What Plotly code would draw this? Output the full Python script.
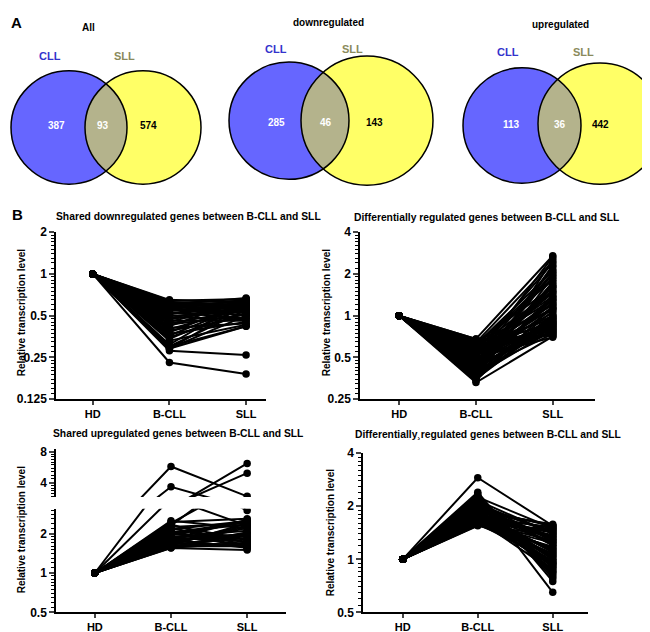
import numpy as np
import plotly.graph_objects as go

W, H = 650, 632

# ---------------- data ----------------
venn_titles = ["All", "downregulated", "upregulated"]
set_names = ["CLL", "SLL"]
cll_only = [387, 285, 113]
shared = [93, 46, 36]
sll_only = [574, 143, 442]

groups = ["HD", "B-CLL", "SLL"]
hd_level = 1.0

panel_titles = [
    "Shared downregulated genes between B-CLL and SLL",
    "Differentially regulated genes between B-CLL and SLL",
    "Shared upregulated genes between B-CLL and SLL",
    "Differentially\u00b8regulated genes between B-CLL and SLL",
]
y_label = "Relative transcription level"

down_bcll = [0.65, 0.64, 0.63, 0.62, 0.62, 0.61, 0.60, 0.60, 0.59, 0.58,
             0.58, 0.57, 0.56, 0.55, 0.55, 0.54, 0.53, 0.52, 0.52, 0.51,
             0.50, 0.49, 0.48, 0.47, 0.46, 0.45, 0.44, 0.43, 0.42, 0.41,
             0.40, 0.39, 0.38, 0.37, 0.36, 0.35, 0.34, 0.33, 0.31, 0.30,
             0.30, 0.29, 0.29, 0.28, 0.29, 0.23]
down_sll = [0.62, 0.66, 0.58, 0.64, 0.55, 0.60, 0.67, 0.52, 0.63, 0.57,
            0.61, 0.50, 0.65, 0.59, 0.54, 0.62, 0.48, 0.60, 0.56, 0.64,
            0.53, 0.47, 0.61, 0.58, 0.46, 0.63, 0.55, 0.51, 0.66, 0.44,
            0.57, 0.49, 0.62, 0.45, 0.60, 0.52, 0.58, 0.43, 0.65, 0.42,
            0.55, 0.60, 0.50, 0.26, 0.42, 0.19]

diff1_bcll = [0.68, 0.66, 0.65, 0.64, 0.63, 0.62, 0.61, 0.60, 0.59, 0.58,
              0.57, 0.56, 0.55, 0.55, 0.54, 0.53, 0.52, 0.51, 0.50, 0.50,
              0.49, 0.48, 0.47, 0.46, 0.46, 0.45, 0.44, 0.43, 0.43, 0.42,
              0.41, 0.40, 0.40, 0.39, 0.38, 0.38, 0.37, 0.36, 0.36, 0.35,
              0.34, 0.33, 0.68, 0.58, 0.52, 0.48, 0.44, 0.41, 0.39, 0.37,
              0.66, 0.60, 0.54, 0.50, 0.45, 0.42, 0.38, 0.35, 0.57, 0.47,
              0.64, 0.61, 0.56, 0.53, 0.49, 0.46, 0.43, 0.40, 0.37, 0.62]
diff1_sll = [0.72, 1.10, 0.85, 1.60, 0.95, 2.10, 0.78, 1.30, 0.90, 1.85,
             0.75, 1.20, 1.00, 2.40, 0.82, 1.45, 0.88, 1.05, 2.65, 0.70,
             1.15, 0.80, 1.70, 0.92, 1.25, 0.76, 1.55, 2.00, 0.86, 1.35,
             0.98, 0.74, 1.40, 2.25, 0.84, 1.08, 0.79, 1.90, 0.94, 2.55,
             1.18, 0.71, 2.70, 0.83, 1.28, 0.77, 1.65, 0.96, 2.30, 1.02,
             0.73, 1.50, 0.87, 2.15, 1.12, 0.81, 1.75, 0.91, 1.38, 1.22,
             2.45, 1.95, 1.48, 1.13, 0.89, 2.05, 1.62, 1.32, 0.99, 1.80]

up_bcll = [5.8, 3.7, 2.3, 2.4, 2.5, 2.45, 2.35, 2.25, 2.2, 2.15,
           2.1, 2.05, 2.0, 1.95, 1.9, 1.88, 1.85, 1.82, 1.8, 1.78,
           1.75, 1.72, 1.7, 1.68, 1.65, 1.63, 1.6, 1.58, 1.56, 1.55,
           2.0, 1.9, 1.8, 1.7, 1.62, 2.3]
up_sll = [3.0, 2.3, 6.2, 5.0, 2.2, 2.6, 1.6, 2.4, 1.7, 2.5,
          1.55, 2.35, 1.8, 2.45, 1.65, 2.1, 1.75, 2.55, 1.9, 1.58,
          2.0, 2.3, 1.62, 2.2, 1.85, 2.4, 1.6, 2.05, 1.7, 1.5,
          2.5, 1.95, 1.56, 2.25, 1.68, 1.8]

diff2_bcll = [2.90, 2.40, 2.35, 2.30, 2.25, 2.20, 2.15, 2.10, 2.05, 2.00,
              1.97, 1.94, 1.91, 1.88, 1.85, 1.82, 1.80, 1.78, 1.76, 1.74,
              1.72, 1.70, 1.68, 1.66, 1.64, 1.62, 1.60, 1.58, 1.56, 1.55,
              2.18, 2.08, 1.98, 1.90, 1.84, 1.79, 1.73, 1.67, 1.61, 1.57,
              2.12, 2.02, 1.93, 1.86, 1.81, 1.75, 1.69, 1.63, 1.59, 2.28,
              1.95, 1.87, 1.77, 1.71, 1.65, 2.22, 2.06, 1.83, 1.92, 1.99]
diff2_sll = [1.55, 0.75, 0.65, 0.80, 1.50, 0.85, 1.40, 0.90, 1.20, 1.00,
             1.45, 0.95, 1.30, 1.10, 1.58, 0.88, 1.25, 1.05, 1.35, 0.98,
             1.52, 1.15, 0.92, 1.42, 1.08, 1.28, 0.96, 1.48, 1.18, 1.38,
             0.82, 1.22, 1.02, 1.56, 0.94, 1.32, 1.12, 0.86, 1.46, 1.06,
             1.26, 0.90, 1.54, 1.00, 1.36, 1.14, 1.44, 0.97, 1.24, 0.78,
             1.34, 1.04, 1.50, 0.93, 1.16, 0.84, 1.40, 1.10, 1.30, 1.20]

# ---------------- layout helpers (pixel geometry) ----------------
FONT = "Liberation Sans, Arial, sans-serif"
BLUE, YELLOW, LENS = "#6666ff", "#ffff66", "#b4b38c"


def xd(px):
    return px / W


def yd(py):
    return 1 - py / H


def series_xy(bcll, sll):
    xs, ys = [], []
    for b, s in zip(bcll, sll):
        xs += [0, 1, 2, None]
        ys += [hd_level, b, s, None]
    return xs, ys


def minor_vals(lo, hi):
    vals = []
    a = 2.0 ** np.floor(np.log2(lo))
    while a < hi:
        for k in range(1, 10):
            v = a * (1 + k / 10)
            if lo < v < hi:
                vals.append(float(v))
        a *= 2
    return vals


fig = go.Figure()

line_style = dict(color="black", width=2)
marker_style = dict(color="black", size=7.5)


def add_lines(bcll, sll, xa, ya):
    xs, ys = series_xy(bcll, sll)
    fig.add_trace(go.Scatter(x=xs, y=ys, mode="lines+markers", line=line_style,
                             marker=marker_style, xaxis=xa, yaxis=ya,
                             showlegend=False, hoverinfo="skip",
                             connectgaps=False))


add_lines(down_bcll, down_sll, "x", "y")
add_lines(diff1_bcll, diff1_sll, "x2", "y2")
add_lines(up_bcll, up_sll, "x3", "y3")
add_lines(up_bcll, up_sll, "x3", "y4")
add_lines(diff2_bcll, diff2_sll, "x4", "y5")

tickfont = dict(family=FONT, size=12, color="black", weight="bold")


def xaxis_cfg(px0, px1, rng, anchor):
    return dict(domain=[xd(px0), xd(px1)], range=rng, anchor=anchor,
                tickvals=[0, 1, 2], ticktext=groups, ticks="outside",
                ticklen=4, tickwidth=1.5, showline=True, linewidth=1.5,
                linecolor="black", showgrid=False, zeroline=False,
                tickfont=dict(family=FONT, size=11, color="black", weight="bold"))


def yaxis_cfg(py_top, py_bot, lo, hi, tv, tt, anchor):
    return dict(domain=[yd(py_bot), yd(py_top)], type="log",
                range=[np.log10(lo), np.log10(hi)], anchor=anchor,
                tickvals=tv, ticktext=tt, ticks="outside", ticklen=5,
                tickwidth=1.5, showline=True, linewidth=1.5,
                linecolor="black", showgrid=False, zeroline=False,
                tickfont=tickfont,
                minor=dict(tickvals=minor_vals(lo, hi), ticks="outside",
                           ticklen=3, tickwidth=1, tickcolor="black"))


fig.update_layout(
    xaxis=xaxis_cfg(48, 258, [-0.48, 2.26], "y"),
    yaxis=yaxis_cfg(222, 393, 0.125, 2, [0.125, 0.25, 0.5, 1, 2],
                    ["0.125", "0.25", "0.5", "1", "2"], "x"),
    xaxis2=xaxis_cfg(352, 587, [-0.51, 2.55], "y2"),
    yaxis2=yaxis_cfg(222, 393, 0.25, 4, [0.25, 0.5, 1, 2, 4],
                     ["0.25", "0.5", "1", "2", "4"], "x2"),
    xaxis3=xaxis_cfg(48, 278, [-0.51, 2.51], "y3"),
    yaxis3=yaxis_cfg(505, 611, 0.5, 3.09, [0.5, 1, 2], ["0.5", "1", "2"], "x3"),
    yaxis4=yaxis_cfg(444, 493, 2.95, 8.5, [4, 8], ["4", "8"], "x3"),
    xaxis4=xaxis_cfg(355, 580, [-0.53, 2.47], "y5"),
    yaxis5=yaxis_cfg(448, 611, 0.5, 4, [0.5, 1, 2, 4],
                     ["0.5", "1", "2", "4"], "x4"),
    xaxis5=dict(domain=[0, 1], range=[0, W], visible=False, anchor="y6"),
    yaxis6=dict(domain=[0, 1], range=[H, 0], visible=False, anchor="x5"),
)

# ---------------- Venn diagrams ----------------
venn_geom = [
    dict(blue=(61, 115, 58), yellow=(135, 115, 58), title=(80, 13),
         cll=(42, 42), sll=(116, 42), nums=(48, 95, 140), ny=113),
    dict(blue=(281, 108, 60), yellow=(359, 108, 66), title=(320, 8),
         cll=(268, 35), sll=(344, 35), nums=(268, 318, 366), ny=110),
    dict(blue=(514, 113, 59), yellow=(592, 111, 62), title=(552, 10),
         cll=(500, 38), sll=(575, 38), nums=(503, 552, 592), ny=112),
]

shapes = []
annots = []


def circle(c, fill, line):
    cx, cy, r = c
    return dict(type="circle", xref="x5", yref="y6", x0=cx - r, x1=cx + r,
                y0=cy - r, y1=cy + r, fillcolor=fill, line=line, layer="above")


def lens_path(c1, c2):
    cx1, cy1, r1 = c1
    cx2, cy2, r2 = c2
    ys = np.linspace(max(cy1 - r1, cy2 - r2), min(cy1 + r1, cy2 + r2), 240)
    h1 = np.sqrt(np.clip(r1 ** 2 - (ys - cy1) ** 2, 0, None))
    h2 = np.sqrt(np.clip(r2 ** 2 - (ys - cy2) ** 2, 0, None))
    left = np.maximum(cx1 - h1, cx2 - h2)
    right = np.minimum(cx1 + h1, cx2 + h2)
    ok = left <= right
    ys, left, right = ys[ok], left[ok], right[ok]
    pts = list(zip(right, ys)) + list(zip(left[::-1], ys[::-1]))
    return "M " + " L ".join(f"{x:.2f},{y:.2f}" for x, y in pts) + " Z"


def txt(xy, s, size, color, weight="bold", angle=0):
    annots.append(dict(x=xy[0], y=xy[1], xref="x5", yref="y6", text=s,
                       showarrow=False, xanchor="center", yanchor="middle",
                       textangle=angle,
                       font=dict(family=FONT, size=size, color=color,
                                 weight=weight)))


for i, g in enumerate(venn_geom):
    shapes.append(circle(g["blue"], BLUE, dict(width=0)))
    shapes.append(circle(g["yellow"], YELLOW, dict(width=0)))
    shapes.append(dict(type="path", xref="x5", yref="y6",
                       path=lens_path(g["blue"], g["yellow"]),
                       fillcolor=LENS, line=dict(width=0), layer="above"))
    shapes.append(circle(g["blue"], "rgba(0,0,0,0)", dict(color="black", width=1.5)))
    shapes.append(circle(g["yellow"], "rgba(0,0,0,0)", dict(color="black", width=1.5)))

    txt(g["title"], venn_titles[i], 10, "black")
    txt(g["cll"], set_names[0], 11, "#3333cc")
    txt(g["sll"], set_names[1], 11, "#8a8a5c")
    txt((g["nums"][0], g["ny"]), str(cll_only[i]), 10, "white")
    txt((g["nums"][1], g["ny"]), str(shared[i]), 10, "white")
    txt((g["nums"][2], g["ny"]), str(sll_only[i]), 10, "black")

# panel letters
txt((8, 8), "A", 15, "black")
txt((9, 204), "B", 15, "black")

# panel titles and y labels
title_pos = [(180, 206), (478, 207), (170, 428), (480, 429)]
ylab_pos = [(13, 305), (318, 305), (13, 527), (322, 530)]
for t, xy in zip(panel_titles, title_pos):
    txt(xy, t, 10.3, "black")
for xy in ylab_pos:
    txt(xy, y_label, 10, "black", angle=-90)

fig.update_layout(width=W, height=H, autosize=False,
                  margin=dict(l=0, r=0, t=0, b=0),
                  paper_bgcolor="white", plot_bgcolor="rgba(0,0,0,0)",
                  shapes=shapes, annotations=annots, showlegend=False)

fig.write_html("out.html")
